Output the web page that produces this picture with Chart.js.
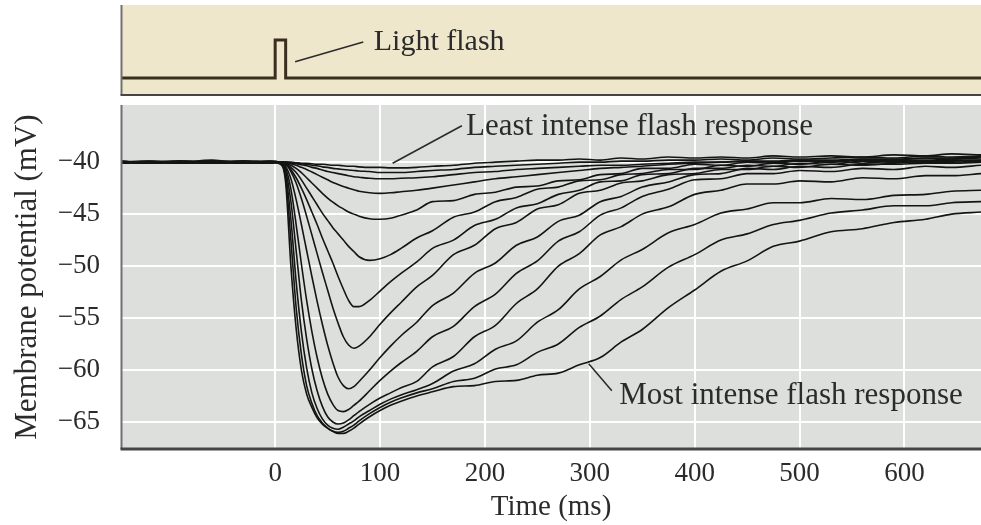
<!DOCTYPE html>
<html>
<head>
<meta charset="utf-8">
<title>Photoreceptor responses to light flashes</title>
<script src="https://cdn.jsdelivr.net/npm/chart.js@4.4.1/dist/chart.umd.min.js"></script>
<style>
  html, body { margin: 0; padding: 0; background: #fff; }
  #wrap { position: relative; width: 981px; height: 525px; }
  #flashChart { position: absolute; left: 0; top: 0; }
  #responseChart { position: absolute; left: 0; top: 100px; }
</style>
</head>
<body>
<div id="wrap">
  <canvas id="flashChart" width="981" height="100"></canvas>
  <canvas id="responseChart" width="981" height="425"></canvas>
</div>
<script>
const SERIF = '"Liberation Serif", "DejaVu Serif", serif';
const INK = '#2b2b2b';

// Sample times (ms) shared by every trace
const timeMs = [
  -147, -120, -90, -60, -30, -5,
  5, 10, 15, 20, 25, 30, 35, 40, 45, 50,
  55, 60, 65, 70, 75, 80, 90, 100, 110, 120,
  135, 150, 170, 190, 210, 230, 250, 270, 290, 310,
  330, 350, 375, 400, 425, 450, 475, 500, 530, 560,
  590, 620, 645, 673
];

// Membrane potential (mV), least intense flash first
const trace01 = [
  -40.0, -39.9, -40.1, -40.0, -39.9, -40.0,
  -40.0, -40.0, -40.0, -40.05, -40.1, -40.1, -40.15, -40.2, -40.2, -40.25,
  -40.3, -40.3, -40.35, -40.4, -40.4, -40.45, -40.5, -40.5, -40.55, -40.55,
  -40.5, -40.4, -40.3, -40.1, -40.0, -39.9, -39.8, -39.8, -39.7, -39.8,
  -39.6, -39.7, -39.5, -39.6, -39.5, -39.6, -39.4, -39.5, -39.4, -39.5,
  -39.3, -39.4, -39.2, -39.3
];
const trace02 = [
  -40.1, -40.0, -39.9, -40.1, -40.0, -40.0,
  -40.0, -40.0, -40.05, -40.1, -40.15, -40.2, -40.3, -40.35, -40.45, -40.5,
  -40.6, -40.65, -40.7, -40.75, -40.8, -40.85, -40.9, -41.0, -41.0, -41.0,
  -40.9, -40.8, -40.7, -40.5, -40.4, -40.3, -40.2, -40.1, -40.0, -40.0,
  -39.9, -39.9, -39.8, -39.8, -39.7, -39.8, -39.6, -39.7, -39.6, -39.5,
  -39.6, -39.4, -39.5, -39.4
];
const trace03 = [
  -39.9, -40.1, -40.0, -39.8, -40.1, -40.0,
  -40.0, -40.0, -40.1, -40.15, -40.25, -40.35, -40.5, -40.6, -40.75, -40.9,
  -41.0, -41.1, -41.2, -41.3, -41.4, -41.45, -41.55, -41.6, -41.6, -41.55,
  -41.5, -41.4, -41.2, -41.0, -40.9, -40.7, -40.6, -40.5, -40.4, -40.3,
  -40.3, -40.2, -40.1, -40.0, -40.0, -39.9, -39.9, -39.8, -39.8, -39.7,
  -39.7, -39.6, -39.6, -39.5
];
const trace04 = [
  -40.0, -40.1, -39.9, -40.0, -40.0, -40.1,
  -40.0, -40.05, -40.15, -40.3, -40.5, -40.7, -40.95, -41.2, -41.45, -41.7,
  -41.95, -42.15, -42.35, -42.5, -42.65, -42.8, -42.95, -43.0, -42.95, -42.85,
  -42.7, -42.5, -42.2, -41.9, -41.6, -41.4, -41.2, -41.0, -40.8, -40.6,
  -40.5, -40.4, -40.2, -40.1, -40.0, -39.9, -40.0, -39.8, -39.9, -39.7,
  -39.8, -39.6, -39.7, -39.5
];
const trace05 = [
  -40.0, -40.0, -40.1, -39.9, -40.0, -40.0,
  -40.0, -40.1, -40.3, -40.6, -41.0, -41.5, -42.0, -42.5, -43.0, -43.45,
  -43.85, -44.2, -44.5, -44.8, -45.0, -45.2, -45.45, -45.5, -45.4, -45.1,
  -44.6, -43.8, -43.7, -43.1, -42.9, -42.4, -42.3, -41.8, -41.7, -41.2,
  -41.1, -40.6, -40.6, -40.2, -40.3, -40.0, -40.1, -39.9, -40.0, -39.8,
  -39.8, -39.8, -39.7, -39.6
];
const trace06 = [
  -40.1, -40.0, -40.0, -40.1, -39.9, -40.0,
  -40.0, -40.15, -40.5, -41.0, -41.7, -42.5, -43.3, -44.1, -44.9, -45.6,
  -46.3, -46.9, -47.5, -48.1, -48.6, -49.1, -49.45, -49.3, -48.9, -48.3,
  -47.3, -46.6, -45.3, -44.8, -43.8, -43.4, -42.6, -42.4, -41.8, -41.7,
  -41.2, -41.1, -40.7, -40.7, -40.3, -40.4, -40.1, -40.2, -39.9, -40.1,
  -39.9, -39.9, -39.8, -39.8
];
const trace07 = [
  -40.0, -39.9, -40.0, -40.0, -40.1, -40.0,
  -40.0, -40.2, -40.7, -41.5, -42.5, -43.6, -44.8, -46.0, -47.3, -48.5,
  -49.7, -51.0, -52.2, -53.3, -53.9, -53.9, -53.3, -52.4, -51.5, -50.7,
  -49.6, -48.3, -47.5, -46.1, -45.5, -44.4, -44.0, -43.1, -42.7, -41.9,
  -41.8, -41.2, -41.1, -40.6, -40.6, -40.3, -40.4, -40.1, -40.2, -39.9,
  -40.0, -39.9, -39.9, -39.8
];
const trace08 = [
  -40.0, -40.0, -39.9, -40.1, -40.0, -39.9,
  -40.0, -40.2, -40.9, -42.0, -43.5, -45.2, -47.0, -48.8, -50.6, -52.3,
  -54.0, -55.5, -56.8, -57.6, -57.9, -57.7, -56.8, -55.6, -54.5, -53.5,
  -52.0, -50.9, -48.9, -48.0, -46.4, -45.8, -44.5, -44.1, -43.0, -42.7,
  -42.0, -41.8, -41.2, -41.1, -40.7, -40.7, -40.4, -40.5, -40.2, -40.3,
  -40.1, -40.0, -40.0, -39.9
];
const trace09 = [
  -39.9, -40.0, -40.0, -40.0, -40.1, -40.0,
  -40.0, -40.4, -41.6, -43.6, -46.0, -48.5, -51.0, -53.4, -55.6, -57.6,
  -59.3, -60.7, -61.5, -61.8, -61.6, -61.1, -60.0, -58.8, -57.7, -56.7,
  -55.4, -53.8, -52.6, -50.7, -49.7, -48.0, -47.2, -45.7, -45.1, -43.8,
  -43.3, -42.4, -41.9, -41.2, -41.1, -40.6, -40.7, -40.4, -40.5, -40.2,
  -40.2, -40.1, -40.1, -40.0
];
const trace10 = [
  -40.0, -40.1, -40.0, -39.9, -40.0, -40.1,
  -40.0, -40.6, -42.6, -46.0, -49.8, -53.3, -56.3, -58.8, -60.8, -62.3,
  -63.3, -63.9, -64.0, -63.8, -63.4, -63.0, -62.0, -61.0, -60.1, -59.3,
  -58.2, -56.8, -55.8, -53.9, -52.7, -50.7, -49.5, -47.6, -46.7, -45.1,
  -44.4, -43.3, -42.6, -41.7, -41.6, -41.1, -41.1, -40.8, -40.9, -40.6,
  -40.7, -40.4, -40.5, -40.3
];
const trace11 = [
  -40.1, -40.0, -40.0, -40.0, -39.9, -40.0,
  -40.0, -40.9, -43.8, -48.5, -53.3, -57.0, -59.9, -62.0, -63.5, -64.5,
  -65.0, -65.2, -65.1, -64.8, -64.4, -64.0, -63.3, -62.7, -62.2, -61.7,
  -61.1, -59.7, -58.7, -56.8, -55.7, -53.6, -52.2, -50.0, -48.8, -47.0,
  -46.2, -45.0, -44.3, -43.1, -42.7, -42.1, -42.1, -41.8, -41.9, -41.5,
  -41.6, -41.3, -41.3, -41.1
];
const trace12 = [
  -40.0, -40.0, -40.1, -40.0, -40.0, -39.9,
  -40.1, -41.2, -45.5, -51.5, -56.3, -59.8, -62.2, -63.7, -64.7, -65.3,
  -65.6, -65.7, -65.5, -65.2, -64.9, -64.5, -63.9, -63.3, -62.8, -62.4,
  -61.9, -61.3, -60.1, -59.4, -58.0, -57.2, -55.4, -54.2, -52.2, -51.0,
  -49.4, -48.4, -46.8, -46.0, -44.9, -44.5, -43.9, -43.9, -43.5, -43.6,
  -43.2, -43.1, -42.8, -42.7
];
const trace13 = [
  -40.0, -40.0, -40.0, -40.1, -40.0, -40.0,
  -40.1, -41.5, -47.5, -54.0, -58.5, -61.5, -63.2, -64.4, -65.1, -65.6,
  -65.9, -66.0, -65.9, -65.6, -65.3, -64.9, -64.2, -63.6, -63.1, -62.7,
  -62.2, -61.8, -61.1, -60.8, -59.9, -59.5, -58.3, -57.5, -55.9, -54.8,
  -53.2, -52.0, -50.1, -48.9, -47.5, -46.9, -46.0, -45.6, -44.9, -44.6,
  -44.2, -44.2, -43.9, -43.8
];
// most intense flash
const trace14 = [
  -40.0, -40.0, -40.0, -40.0, -40.0, -40.0,
  -40.2, -42.0, -50.0, -56.0, -60.0, -62.3, -63.6, -64.6, -65.2, -65.6,
  -65.9, -66.1, -66.1, -65.9, -65.6, -65.2, -64.5, -63.9, -63.4, -63.0,
  -62.5, -62.1, -61.6, -61.5, -61.1, -61.0, -60.5, -60.3, -59.5, -58.8,
  -57.3, -56.1, -54.0, -52.3, -50.5, -49.5, -48.1, -47.6, -46.7, -46.4,
  -45.8, -45.5, -45.0, -44.8
];
const traces = [trace01, trace02, trace03, trace04, trace05, trace06, trace07,
  trace08, trace09, trace10, trace11, trace12, trace13, trace14];

// Light stimulus trace (arbitrary units)
const flashTime = [-147, 0, 0, 10, 10, 673];
const flashLevel = [1.9, 1.9, 6.1, 6.1, 1.9, 1.9];

// Tick labels
const xTickValues = [0, 100, 200, 300, 400, 500, 600];
const yTickValues = [-65, -60, -55, -50, -45, -40];

function toPoints(xs, ys) {
  return xs.map((x, i) => ({ x: x, y: ys[i] }));
}

/**
 * Fill the plot area with the panel colour
 */
const panelBackground = {
  id: 'panelBackground',
  beforeDraw(chart, args, opts) {
    const { ctx, chartArea: a } = chart;
    ctx.save();
    ctx.fillStyle = opts.color;
    ctx.fillRect(a.left, a.top, a.right - a.left, a.bottom - a.top);
    ctx.restore();
  }
};

/**
 * Left and bottom frame lines of a panel
 */
const panelFrame = {
  id: 'panelFrame',
  afterDatasetsDraw(chart, args, opts) {
    const { ctx, chartArea: a } = chart;
    ctx.save();
    ctx.strokeStyle = opts.leftColor;
    ctx.lineWidth = opts.leftWidth;
    ctx.beginPath();
    ctx.moveTo(a.left + 0.5, a.top);
    ctx.lineTo(a.left + 0.5, a.bottom);
    ctx.stroke();
    ctx.strokeStyle = opts.bottomColor;
    ctx.lineWidth = opts.bottomWidth;
    ctx.beginPath();
    ctx.moveTo(a.left - 0.5, a.bottom);
    ctx.lineTo(a.right, a.bottom);
    ctx.stroke();
    ctx.restore();
  }
};

/**
 * Text labels with a leader line, placed in data coordinates
 */
const callouts = {
  id: 'callouts',
  afterDatasetsDraw(chart, args, opts) {
    const { ctx, scales: { x, y } } = chart;
    ctx.save();
    ctx.strokeStyle = INK;
    ctx.fillStyle = INK;
    ctx.lineWidth = 1.6;
    ctx.font = opts.fontSize + 'px ' + SERIF;
    ctx.textAlign = 'left';
    ctx.textBaseline = 'middle';
    opts.items.forEach(item => {
      ctx.beginPath();
      ctx.moveTo(x.getPixelForValue(item.from[0]), y.getPixelForValue(item.from[1]));
      ctx.lineTo(x.getPixelForValue(item.to[0]), y.getPixelForValue(item.to[1]));
      ctx.stroke();
      ctx.fillText(item.text, x.getPixelForValue(item.at[0]), y.getPixelForValue(item.at[1]));
    });
    ctx.restore();
  }
};

// Stimulus panel
new Chart(document.getElementById('flashChart'), {
  type: 'line',
  data: {
    datasets: [{
      data: toPoints(flashTime, flashLevel),
      borderColor: '#3a2f1f',
      borderWidth: 3,
      borderJoinStyle: 'miter',
      pointRadius: 0,
      tension: 0
    }]
  },
  options: {
    responsive: false,
    animation: false,
    layout: { padding: { left: 121, right: 0, top: 5, bottom: 5 } },
    plugins: {
      legend: { display: false },
      tooltip: { enabled: false },
      panelBackground: { color: '#efe7cb' },
      panelFrame: { leftColor: '#707070', leftWidth: 2, bottomColor: '#454545', bottomWidth: 2 },
      callouts: {
        fontSize: 30,
        items: [{ text: 'Light flash', from: [19, 3.7], to: [84, 5.9], at: [94, 5.9] }]
      }
    },
    scales: {
      x: { type: 'linear', min: -147, max: 673, display: false },
      y: { min: 0, max: 10, display: false }
    }
  },
  plugins: [panelBackground, panelFrame, callouts]
});

// Response panel
new Chart(document.getElementById('responseChart'), {
  type: 'line',
  data: {
    datasets: traces.map(trace => ({
      data: toPoints(timeMs, trace),
      borderColor: '#141414',
      borderWidth: 1.6,
      pointRadius: 0,
      cubicInterpolationMode: 'monotone'
    }))
  },
  options: {
    responsive: false,
    animation: false,
    layout: { padding: { left: 0, right: 0, top: 5, bottom: 0 } },
    plugins: {
      legend: { display: false },
      tooltip: { enabled: false },
      panelBackground: { color: '#dcdfdc' },
      panelFrame: { leftColor: '#707070', leftWidth: 2, bottomColor: '#454545', bottomWidth: 3 },
      callouts: {
        fontSize: 31,
        items: [
          { text: 'Least intense flash response', from: [112, -40.1], to: [178, -36.5], at: [182, -36.6] },
          { text: 'Most intense flash response', from: [299, -59.4], to: [321, -62.0], at: [328, -62.5] }
        ]
      }
    },
    scales: {
      x: {
        type: 'linear',
        min: -147,
        max: 673,
        afterBuildTicks: axis => { axis.ticks = xTickValues.map(v => ({ value: v })); },
        afterFit: axis => {
          axis.height = 76;
          axis.paddingLeft = 0;
          axis.paddingRight = 0;
        },
        grid: { color: '#ffffff', lineWidth: 2, drawTicks: false },
        border: { display: false },
        ticks: {
          padding: 9,
          color: INK,
          autoSkip: false,
          maxRotation: 0,
          font: { family: SERIF, size: 27 }
        },
        title: {
          display: true,
          text: 'Time (ms)',
          color: INK,
          padding: { top: 0, bottom: 0 },
          font: { family: SERIF, size: 29 }
        }
      },
      y: {
        min: -67.6,
        max: -34.5,
        afterBuildTicks: axis => { axis.ticks = yTickValues.map(v => ({ value: v })); },
        afterFit: axis => {
          axis.width = 121;
          axis.paddingTop = 0;
          axis.paddingBottom = 0;
        },
        grid: { color: '#ffffff', lineWidth: 2, drawTicks: false },
        border: { display: false },
        ticks: {
          padding: 21,
          color: INK,
          font: { family: SERIF, size: 27 },
          callback: value => '\u2212' + Math.abs(value)
        },
        title: {
          display: true,
          text: 'Membrane potential (mV)',
          color: INK,
          padding: { top: 9, bottom: 0 },
          font: { family: SERIF, size: 31 }
        }
      }
    }
  },
  plugins: [panelBackground, panelFrame, callouts]
});
</script>
</body>
</html>
